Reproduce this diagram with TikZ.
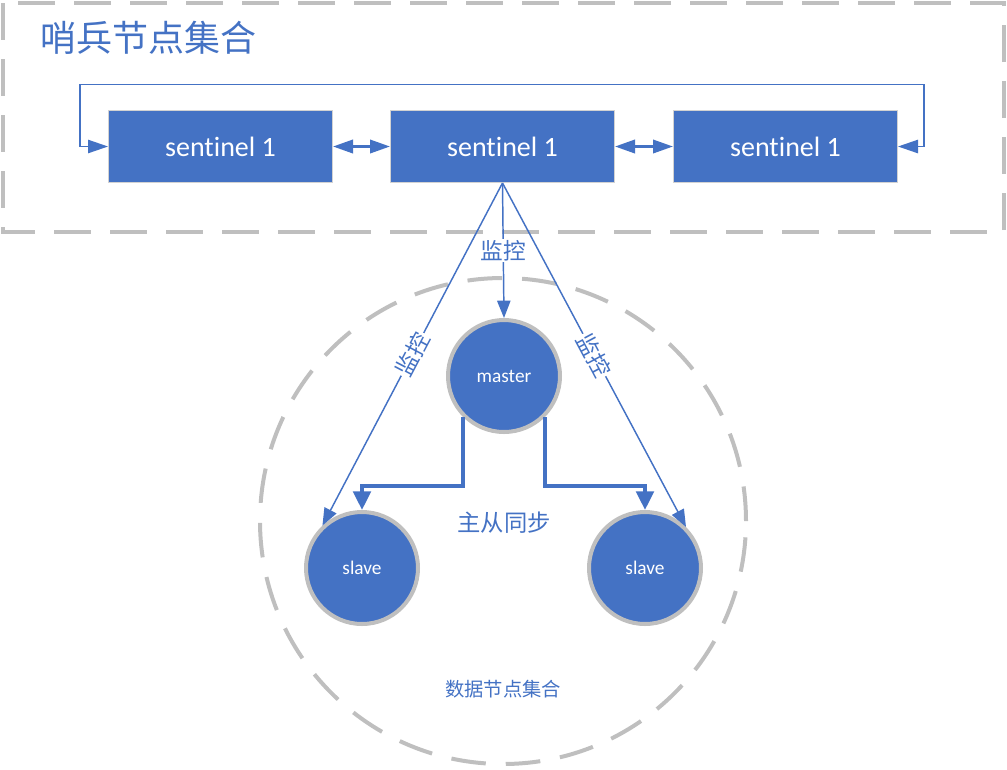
\documentclass[tikz,border=0pt]{standalone}
\usepackage{fontspec}
\setmainfont{Carlito}[Ligatures=NoCommon]
\newfontfamily\cjk{Noto Sans CJK SC}
\usetikzlibrary{arrows.meta,calc}
\definecolor{myblue}{HTML}{4472C4}
\definecolor{mygray}{HTML}{BFBFBF}
\begin{document}
\begin{tikzpicture}[x=0.75pt,y=-0.75pt,
  sent/.style={rectangle, fill=myblue, draw=mygray!70, line width=0.75pt,
    minimum width=168pt, minimum height=54pt, inner sep=0pt, text=white,
    font=\fontsize{21}{24}\selectfont},
  redis/.style={circle, fill=myblue, draw=mygray, line width=3pt,
    minimum size=84pt, inner sep=0pt, text=white,
    font=\fontsize{14.5}{16}\selectfont},
  monarrow/.style={draw=myblue, line width=1.1pt, -{Triangle[length=13pt,width=10pt]}},
  syncarrow/.style={draw=myblue, line width=3pt, -{Triangle[length=14pt,width=13pt]}},
  dblarrow/.style={draw=myblue, line width=2pt,
    {Triangle[length=15pt,width=10pt]}-{Triangle[length=15pt,width=10pt]}},
  looparrow/.style={draw=myblue, line width=1.1pt,
    {Triangle[length=15pt,width=10pt]}-{Triangle[length=15pt,width=10pt]}},
  lbl/.style={text=myblue, font=\cjk\fontsize{17}{20}\selectfont},
  grayframe/.style={draw=mygray, line width=3pt, dash pattern=on 28pt off 14pt}
]
\useasboundingbox (0,0) rectangle (1007,769);

% sentinel group frame
\draw[grayframe] (3,3) rectangle (1004,232);
\node[anchor=west, text=myblue, font=\cjk\fontsize{27}{31}\selectfont, inner sep=0pt] (title) at (40,38) {哨兵节点集合};

% data node group circle
\draw[draw=mygray, line width=3pt, dash pattern=on 26pt off 15pt] (503,521) circle[radius=182.25pt];
\node[text=myblue, font=\cjk\fontsize{14.5}{17}\selectfont] (dlabel) at (503,689) {数据节点集合};

% sentinels
\node[sent] (s1) at (220.5,146.5) {sentinel 1};
\node[sent] (s2) at (502.5,146.5) {sentinel 1};
\node[sent] (s3) at (785.5,146.5) {sentinel 1};

\draw[dblarrow] (s1.east) -- (s2.west);
\draw[dblarrow] (s2.east) -- (s3.west);
\draw[looparrow] (s1.west) -- ++(-28,0) -- ++(0,-62) -| ($(s3.east)+(26,0)$) -- (s3.east);

% data nodes
\node[redis] (m) at (504,376) {master};
\node[redis] (sl) at (362,568) {slave};
\node[redis] (sr) at (645,568) {slave};

% monitoring
\draw[monarrow] (s2.south) -- node[lbl, fill=white, inner sep=1pt] (mon) {监控} (m.north);
\draw[monarrow] (s2.south) -- node[lbl, sloped, fill=white, inner sep=1pt] (monl) {监控} (sl.133);
\draw[monarrow] (s2.south) -- node[lbl, sloped, fill=white, inner sep=1pt] (monr) {监控} (sr.45);

% replication
\draw[syncarrow] (m.south west) |- ($(sl.north)+(0,-24)$) -- (sl.north);
\draw[syncarrow] (m.south east) |- ($(sr.north)+(0,-24)$) -- (sr.north);
\node[lbl, font=\cjk\fontsize{17.5}{20}\selectfont] (sync) at (504,523) {主从同步};
\end{tikzpicture}
\end{document}
